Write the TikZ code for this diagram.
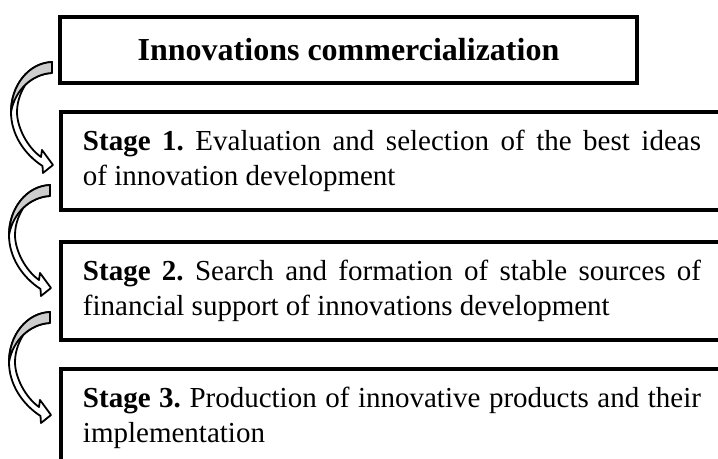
\documentclass[tikz,border=0pt]{standalone}
\usepackage{fontspec}
\setmainfont{Liberation Serif}
\usepackage{tikz}
\usetikzlibrary{positioning, calc}
\definecolor{arrowBack}{RGB}{205, 205, 205}
\frenchspacing

% curved block arrow, local units in px, tail top at the origin
\tikzset{
    pics/bendarrow/.style={code={
        \filldraw[arrowline, fill=white]
            (0,0) .. controls (-24,1) and (-41,24) .. (-41,50)
            .. controls (-41,72) and (-28,92) .. (-9.5,104)
            -- (-9,111) -- (1,103) -- (-10,88) -- (-11,95)
            .. controls (-25,85) and (-35,65) .. (-35,50)
            .. controls (-35,38) and (-30,28) .. (-26.5,22.6)
            .. controls (-19.25,15.75) and (-10,11.5) .. (0,11) -- cycle;
        \filldraw[arrowline, fill=arrowBack]
            (0,0) .. controls (-24,1) and (-41,24) .. (-41,50)
            .. controls (-37,28) and (-20,12) .. (0,11) -- cycle;
    }}
}

\begin{document}
\begin{tikzpicture}[
        x=0.5pt, y=-0.5pt,
        titlebox/.style={
            rectangle, draw=black, line width=2pt, outer sep=0pt,
            font=\fontsize{16pt}{19pt}\selectfont\bfseries,
            minimum width=288.5pt, minimum height=33pt, align=center
        },
        stagebox/.style={
            rectangle, draw=black, line width=2pt, outer sep=0pt,
            font=\fontsize{14.5pt}{17.5pt}\selectfont,
            text width=309pt, inner xsep=11pt, inner ysep=0pt,
            minimum height=49pt, align=justify
        },
        arrowline/.style={draw=black, line width=0.9pt, line join=round}
    ]

    \clip (0,0) rectangle (718,459);

    % TITLE
    \node[titlebox] (title) at (348.5,50) {Innovations commercialization};

    % STAGES (stacked below the title)
    \node[stagebox, below=14.5pt of title.south west, anchor=north west, xshift=0.5pt] (s1)
        {\textbf{Stage 1.} Evaluation and selection of the best ideas\linebreak of innovation development};
    \node[stagebox, below=16pt of s1.south west, anchor=north west] (s2)
        {\textbf{Stage 2.} Search and formation of stable sources of\linebreak financial support of innovations development};
    \node[stagebox, below=14.5pt of s2.south west, anchor=north west] (s3)
        {\textbf{Stage 3.} Production of innovative products and their\linebreak implementation};

    % CURVED ARROWS (box to next box)
    \pic at ($(title.south west)+(-8,-21)$) {bendarrow};
    \pic at ($(s1.south west)+(-11,-25)$) {bendarrow};
    \pic at ($(s2.south west)+(-11,-28)$) {bendarrow};

\end{tikzpicture}
\end{document}
